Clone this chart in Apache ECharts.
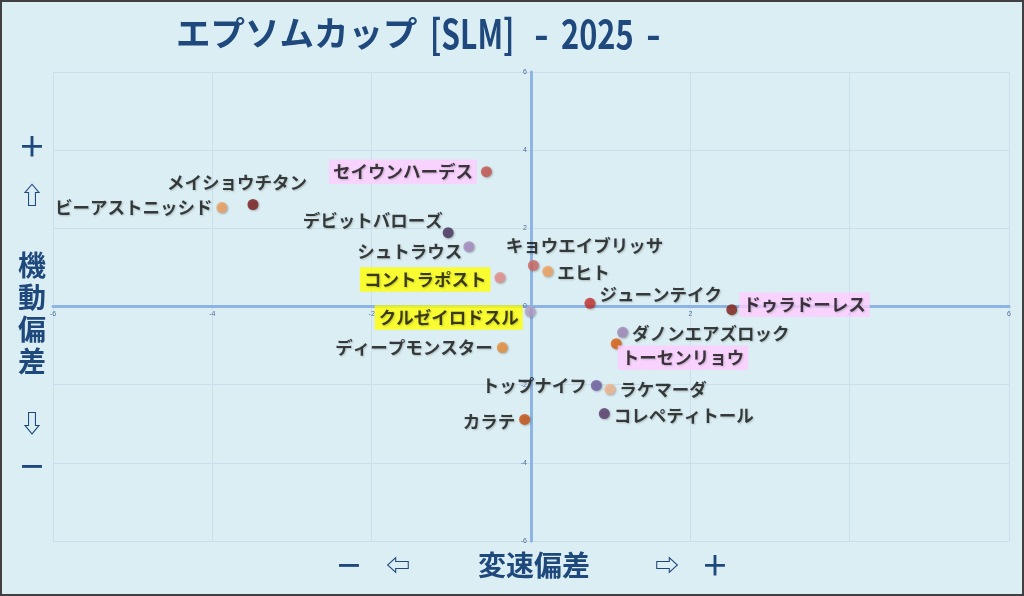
<!DOCTYPE html>
<html>
<head>
<meta charset="utf-8">
<script src="https://cdn.jsdelivr.net/npm/echarts@6/dist/echarts.min.js"></script>
<style>
  html, body { margin: 0; padding: 0; background: #daeef3; }
  #main { width: 1024px; height: 596px; }
</style>
</head>
<body>
<div id="main"></div>
<script>
// データ
var horses = ['セイウンハーデス', 'メイショウチタン', 'ビーアストニッシド', 'デビットバローズ', 'シュトラウス',
  'コントラポスト', 'クルゼイロドスル', 'キョウエイブリッサ', 'エヒト', 'ジューンテイク', 'ドゥラドーレス',
  'ダノンエアズロック', 'トーセンリョウ', 'ディープモンスター', 'トップナイフ', 'ラケマーダ', 'コレペティトール', 'カラテ'];
var hensoku = [-0.56, -3.49, -3.88, -1.04, -0.78, -0.39, -0.01, 0.03, 0.21, 0.74, 2.52, 1.15, 1.07, -0.36, 0.82, 0.99, 0.92, -0.08]; // 変速偏差
var kidou = [3.45, 2.61, 2.53, 1.89, 1.53, 0.74, -0.13, 1.05, 0.9, 0.08, -0.08, -0.66, -0.95, -1.05, -2.02, -2.12, -2.74, -2.89]; // 機動偏差
var axisTicks = [-6, -4, -2, 0, 2, 4, 6];

// 点の色
var dotColor = {
  'セイウンハーデス': '#c8554f', 'メイショウチタン': '#7a1c1c', 'ビーアストニッシド': '#eea060',
  'デビットバローズ': '#48325e', 'シュトラウス': '#a68cc0', 'コントラポスト': '#e6908a',
  'クルゼイロドスル': '#b7a3cb', 'キョウエイブリッサ': '#d06862', 'エヒト': '#f2a25e',
  'ジューンテイク': '#c8302e', 'ドゥラドーレス': '#86231a', 'ダノンエアズロック': '#a08ab9',
  'トーセンリョウ': '#df5f0e', 'ディープモンスター': '#e88f3a', 'トップナイフ': '#6f5fa0',
  'ラケマーダ': '#f3b68e', 'コレペティトール': '#583a6a', 'カラテ': '#c8500f'
};
// ラベル位置・背景
var labelStyle = {
  'セイウンハーデス': { pos: 'left', off: [0, 0], bg: '#ffccff' },
  'メイショウチタン': { pos: 'top', off: [-16, -4] },
  'ビーアストニッシド': { pos: 'left', off: [0, 0] },
  'デビットバローズ': { pos: 'left', off: [4, -12] },
  'シュトラウス': { pos: 'left', off: [3, 5] },
  'コントラポスト': { pos: 'left', off: [0, 2], bg: '#ffff00' },
  'クルゼイロドスル': { pos: 'left', off: [2, 6], bg: '#ffff00' },
  'キョウエイブリッサ': { pos: 'top', off: [51, -2] },
  'エヒト': { pos: 'right', off: [0, 1] },
  'ジューンテイク': { pos: 'right', off: [0, -9] },
  'ドゥラドーレス': { pos: 'right', off: [-2, -5], bg: '#ffccff' },
  'ダノンエアズロック': { pos: 'right', off: [0, 1] },
  'トーセンリョウ': { pos: 'right', off: [-8, 14], bg: '#ffccff' },
  'ディープモンスター': { pos: 'left', off: [0, 0] },
  'トップナイフ': { pos: 'left', off: [0, 0] },
  'ラケマーダ': { pos: 'right', off: [0, 0] },
  'コレペティトール': { pos: 'right', off: [0, 2] },
  'カラテ': { pos: 'left', off: [0, 2] }
};

var seriesData = horses.map(function (name, i) {
  var ls = labelStyle[name];
  var label = {
    show: true,
    position: ls.pos,
    offset: ls.off,
    distance: 4
  };
  if (ls.bg) {
    label.backgroundColor = ls.bg;
    label.padding = [4, 4, 3, 4];
  }
  return {
    name: name,
    value: [hensoku[i], kidou[i]],
    itemStyle: { color: dotColor[name] },
    label: label
  };
});

var myChart = echarts.init(document.getElementById('main'));
var jp = '"Noto Sans CJK JP", "Noto Sans", sans-serif';
var navy = '#1f497d';

function sideText (x, y, text, size) {
  return {
    type: 'text', x: x, y: y,
    style: { text: text, fontSize: size, fontWeight: 'bold', fontFamily: jp, fill: navy, align: 'center', verticalAlign: 'middle' }
  };
}
// タイトルの英数字部分（縦長の書体に見せる）
function titlePart (x, text, sx) {
  return {
    type: 'text', x: x, y: 34, scaleX: sx,
    style: { text: text, fontSize: 40, fontWeight: 'bold', fontFamily: jp, fill: navy, align: 'left', verticalAlign: 'middle' }
  };
}

var axisCommon = {
  type: 'value',
  min: axisTicks[0],
  max: axisTicks[axisTicks.length - 1],
  interval: 2,
  axisLine: { onZero: false, lineStyle: { color: '#8db4e2', width: 3 } },
  axisTick: { show: false },
  axisLabel: { fontSize: 7, color: '#4f6fa0', margin: 4 },
  splitLine: { lineStyle: { color: '#cadfeb', width: 1 } }
};

var option = {
  backgroundColor: '#daeef3',
  animation: false,
  grid: { left: 53, right: 15, top: 72, bottom: 55 },
  xAxis: echarts.util.merge({ position: 'bottom' }, axisCommon, true),
  yAxis: echarts.util.merge({ position: 'left' }, axisCommon, true),
  graphic: [
    { type: 'rect', shape: { x: 1, y: 1, width: 1022, height: 594 }, style: { fill: 'none', stroke: '#404040', lineWidth: 2 } },
    {
      type: 'text', x: 176, y: 33,
      style: { text: 'エプソムカップ', fontSize: 34.5, fontWeight: 'bold', fontFamily: jp, fill: navy, align: 'left', verticalAlign: 'middle' }
    },
    titlePart(430, '[SLM]', 0.75),
    titlePart(534, '-', 1),
    titlePart(561, '2025', 0.77),
    titlePart(646, '-', 1),
    sideText(32, 146, '＋', 28),
    sideText(32, 195, '⇧', 24),
    sideText(32, 265, '機', 28),
    sideText(32, 297, '動', 28),
    sideText(32, 329, '偏', 28),
    sideText(32, 361, '差', 28),
    sideText(32, 423, '⇩', 24),
    sideText(32, 466, '－', 28),
    sideText(349, 565, '－', 28),
    sideText(398, 565, '⇦', 24),
    sideText(534, 565, '変速偏差', 28),
    sideText(667, 565, '⇨', 24),
    sideText(715, 565, '＋', 28)
  ],
  series: [
    {
      type: 'scatter',
      symbolSize: 11,
      data: seriesData,
      itemStyle: { shadowColor: 'rgba(0,0,0,0.3)', shadowBlur: 2, shadowOffsetX: 1, shadowOffsetY: 1 },
      label: {
        formatter: '{b}',
        fontSize: 17.5,
        fontFamily: jp,
        fontWeight: 'bold',
        color: '#111',
        textShadowColor: 'rgba(0,0,0,0.25)',
        textShadowBlur: 2,
        textShadowOffsetX: 1,
        textShadowOffsetY: 1
      }
    }
  ]
};
myChart.setOption(option);

// 軸をゼロ位置へ（ラベルも一緒に移動）
var origin = myChart.convertToPixel({ gridIndex: 0 }, [0, 0]);
var corner = myChart.convertToPixel({ gridIndex: 0 }, [axisTicks[0], axisTicks[0]]);
myChart.setOption({
  xAxis: { offset: -(corner[1] - origin[1]) },
  yAxis: { offset: -(origin[0] - corner[0]) }
});
</script>
</body>
</html>
